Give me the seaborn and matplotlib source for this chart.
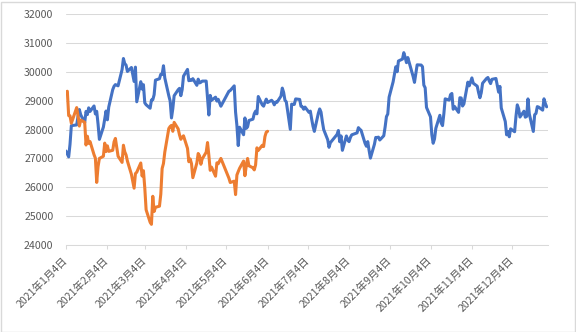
import matplotlib
matplotlib.use("Agg")
import matplotlib.pyplot as plt
import matplotlib.patches as mpatches
import pandas as pd
import seaborn as sns

# Exchange holidays falling on weekdays in 2021
holidays_2021 = [
    "2021-01-11", "2021-02-11", "2021-02-23", "2021-04-29", "2021-05-03",
    "2021-05-04", "2021-05-05", "2021-07-22", "2021-07-23", "2021-08-09",
    "2021-09-20", "2021-09-23", "2021-11-03", "2021-11-23",
]

# Daily closes, 2021 (one value per trading day)
close_2021 = [
    # Jan
    27258, 27158, 27056, 27490, 28139, 28164, 28456, 28698, 28519, 28242,
    28633, 28523, 28756, 28631, 28822, 28546, 28635, 28197, 27663,
    # Feb
    28091, 28362, 28646, 28341, 28779, 29388, 29505, 29562, 29520, 30084,
    30467, 30292, 30236, 30017, 30156, 29671, 30168, 28966,
    # Mar
    29663, 29408, 29559, 28930, 28864, 28743, 29028, 29036, 29211, 29717,
    29766, 29921, 29914, 30216, 29792, 29174, 28995, 28405, 28729, 29176,
    29384, 29432, 29178,
    # Apr
    29388, 29854, 30089, 29696, 29730, 29708, 29768, 29538, 29751, 29621,
    29642, 29683, 29685, 29100, 28508, 29188, 29020, 29126, 28991, 29053,
    28812,
    # May
    29331, 29357, 29518, 28608, 28147, 27448, 28084, 27824, 28406, 28044,
    28098, 28317, 28364, 28553, 28642, 28549, 29149, 28860,
    # Jun
    28814, 28946, 29058, 28941, 29019, 28963, 28860, 28958, 28948, 29161,
    29441, 29291, 29018, 28964, 28010, 28884, 28874, 28875, 29066, 29048,
    28812, 28792,
    # Jul
    28707, 28783, 28598, 28643, 28366, 28118, 27940, 28569, 28718, 28608,
    28279, 28003, 27652, 27388, 27548, 27833, 27970, 27581, 27782, 27283,
    # Aug
    27781, 27641, 27584, 27728, 27820, 27888, 28070, 28015, 27977, 27523,
    27424, 27585, 27281, 27013, 27494, 27732, 27724, 27742, 27641, 27789,
    28089,
    # Sep
    28451, 28543, 29128, 29659, 29916, 30181, 30008, 30381, 30447, 30670,
    30511, 30323, 30500, 29840, 29639, 30248, 30240, 30183, 29544, 29452,
    # Oct
    28771, 28444, 27822, 27528, 27678, 28048, 28498, 28230, 28140, 28550,
    29068, 29025, 29215, 29255, 28708, 28804, 28600, 29106, 29098, 28820,
    28892,
    # Nov
    29647, 29520, 29794, 29611, 29507, 29285, 29106, 29277, 29609, 29776,
    29808, 29688, 29598, 29745, 29774, 29302, 29499, 28751, 28283, 27821,
    # Dec
    27935, 27753, 28029, 27927, 28455, 28860, 28725, 28437, 28640, 28432,
    28459, 29066, 28545, 27937, 28517, 28562, 28798, 28782, 28676, 29069,
    28906, 28791,
]

# Daily closes, 2022 year-to-date, lined up row by row with the 2021 trading days
close_2022 = [
    # Jan
    29301, 29332, 28487, 28478, 28222, 28765, 28489, 28124, 28333, 28257,
    27467, 27772, 27522, 27588, 27131, 27011, 26170, 26717, 27001,
    # Feb
    27078, 27533, 27241, 27439, 27248, 27284, 27579, 27696, 27079, 26865,
    27460, 27232, 27122, 26910, 26449, 25970, 26476, 26526,
    # Mar
    26844, 26393, 26577, 25985, 25221, 24790, 24717, 25690, 25162, 25307,
    25346, 25762, 26652, 26827, 27224, 28040, 28110, 28149, 27943, 28252,
    28027, 27821,
    # Apr
    27665, 27736, 27787, 27350, 26888, 26985, 26821, 26334, 26843, 27172,
    27093, 26799, 26985, 27217, 27553, 27105, 26590, 26700, 26386, 26847,
    # May
    26818, 27003, 26319, 26167, 26213, 25748, 26427, 26547, 26659, 26911,
    26402, 26739, 27001, 26748, 26677, 26604, 26781, 27369, 27279,
    # Jun
    27457, 27413, 27761, 27915, 27943,
]

tick_dates = [
    "2021-01-04", "2021-02-04", "2021-03-04", "2021-04-04", "2021-05-04",
    "2021-06-04", "2021-07-04", "2021-08-04", "2021-09-04", "2021-10-04",
    "2021-11-04", "2021-12-04",
]
y_ticks = [24000, 25000, 26000, 27000, 28000, 29000, 30000, 31000, 32000]

series_names = ["2021", "2022"]
colors = ["#4472C4", "#ED7D31"]

trade_days = pd.bdate_range("2021-01-04", "2021-12-30", freq="C",
                            holidays=holidays_2021)

df = pd.concat([
    pd.DataFrame({"date": trade_days, "close": close_2021, "series": series_names[0]}),
    pd.DataFrame({"date": trade_days[:len(close_2022)], "close": close_2022,
                  "series": series_names[1]}),
], ignore_index=True)

sns.set_theme(style="white")
plt.rcParams["font.family"] = ["Noto Sans CJK JP", "DejaVu Sans"]

W, H = 576, 332
fig = plt.figure(figsize=(W / 100, H / 100), dpi=100)
ax = fig.add_axes([66 / W, (H - 245) / H, (548 - 66) / W, (245 - 14.3) / H])

sns.lineplot(data=df, x="date", y="close", hue="series", hue_order=series_names,
             palette=colors, linewidth=2.2, errorbar=None, legend=False, ax=ax)

grid_c = "#d9d9d9"
text_c = "#595959"

ax.set_ylim(24000, 32000)
ax.set_yticks(y_ticks)
ax.set_yticklabels([str(v) for v in y_ticks])
ax.set_xlim(pd.Timestamp("2021-01-04"), pd.Timestamp("2021-12-31"))

tick_ts = pd.to_datetime(tick_dates)
ax.set_xticks(tick_ts)
ax.set_xticklabels([f"{d.year}年{d.month}月{d.day}日" for d in tick_ts],
                   rotation=45, ha="right", va="center", rotation_mode="anchor")

ax.yaxis.grid(True, color=grid_c, linewidth=0.75)
ax.xaxis.grid(False)
ax.set_axisbelow(True)
for side in ("top", "right", "left"):
    ax.spines[side].set_visible(False)
ax.spines["bottom"].set_color(grid_c)
ax.spines["bottom"].set_linewidth(0.75)

ax.tick_params(axis="y", length=0, pad=9, labelsize=7.6, labelcolor=text_c)
ax.tick_params(axis="x", direction="out", length=3, width=0.75, color=grid_c,
               pad=7, labelsize=7.6, labelcolor=text_c, bottom=True)
ax.set_xlabel("")
ax.set_ylabel("")

fig.patches.append(mpatches.Rectangle((0.5 / W, 0.5 / H), 1 - 2 / W, 1 - 2 / H,
                                      transform=fig.transFigure, fill=False,
                                      edgecolor=grid_c, linewidth=1))

fig.savefig("out.png", dpi=100, facecolor="white")
